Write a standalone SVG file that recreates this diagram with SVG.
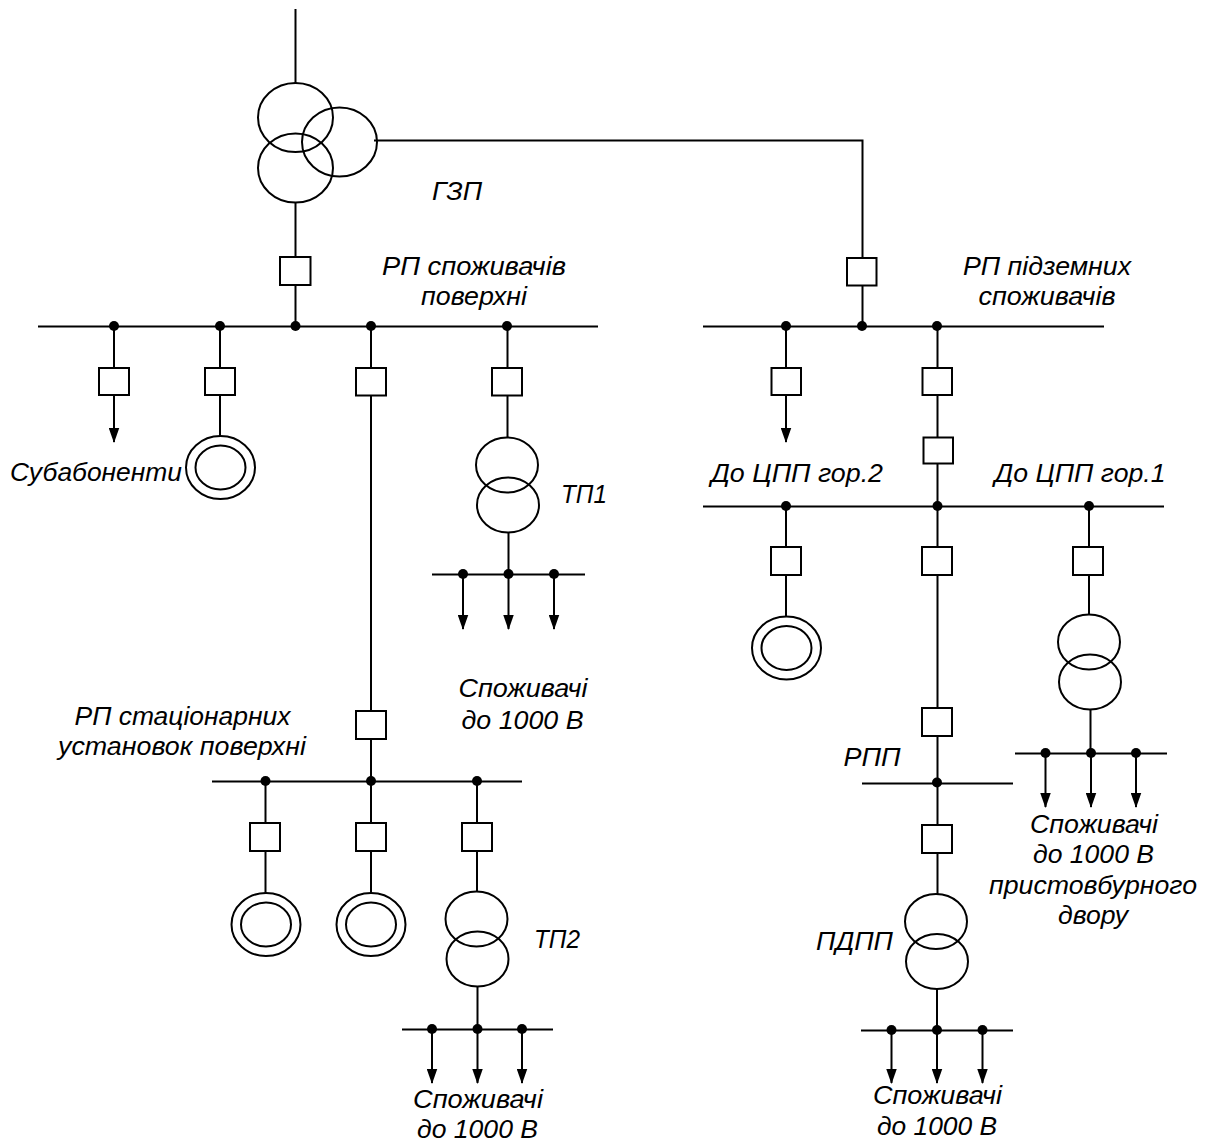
<svg xmlns="http://www.w3.org/2000/svg" xmlns:xlink="http://www.w3.org/1999/xlink" width="1205" height="1142" viewBox="0 0 1205 1142">
<style>
.l{fill:none;stroke:#000;stroke-width:2}
.s{fill:none;stroke:#000;stroke-width:2}
.b{fill:#fff;stroke:#000;stroke-width:2}
.d{fill:#000}
text{font-family:"Liberation Sans",Arial,sans-serif;font-style:italic;font-size:25.5px;fill:#000;text-anchor:middle}
</style>
<defs>
<marker id="arrow" markerUnits="userSpaceOnUse" markerWidth="11" markerHeight="15" refX="5.25" refY="14" orient="0" viewBox="0 0 10.500 15"><path d="M0 0L10.500 0L5.250 15Z" fill="#000"/></marker>
<g id="motor"><ellipse class="s" cx="0" cy="0" rx="34.5" ry="31.5"/><ellipse class="s" cx="0" cy="0" rx="25" ry="22"/></g>
<g id="trafo"><ellipse class="s" cx="0" cy="0" rx="31" ry="27.5"/><ellipse class="s" cx="1" cy="40" rx="31" ry="27.5"/></g>
</defs>
<rect width="1205" height="1142" fill="#fff"/>
<g id="connectors">
<path class="l" d="M295.500 9V84"/>
<path class="l" d="M374 140.500H862.500V326"/>
<path class="l" d="M295.500 202V326"/>
<path class="l" d="M38 326.500H598"/>
<path class="l" d="M703 326.500H1104"/>
<path class="l" d="M220 326V437"/>
<path class="l" d="M371 326V781"/>
<path class="l" d="M507.500 326V437"/>
<path class="l" d="M508.500 533V574"/>
<path class="l" d="M432 574.500H585"/>
<path class="l" d="M212 781.500H522"/>
<path class="l" d="M265.500 781V893"/>
<path class="l" d="M371 781V893"/>
<path class="l" d="M477 781V892"/>
<path class="l" d="M477.500 987V1029"/>
<path class="l" d="M402 1029.500H553"/>
<path class="l" d="M937.500 326V782"/>
<path class="l" d="M703 506.500H1164"/>
<path class="l" d="M786 506V617"/>
<path class="l" d="M1089 506V614"/>
<path class="l" d="M1090.500 710V753"/>
<path class="l" d="M1015 753.500H1167"/>
<path class="l" d="M862 783.500H1013"/>
<path class="l" d="M937.500 783V894"/>
<path class="l" d="M937 989V1030"/>
<path class="l" d="M861 1030.500H1013"/>
<g marker-end="url(#arrow)">
<path class="l" d="M114 326V442"/>
<path class="l" d="M786 326V442"/>
<path class="l" d="M463 574V629"/>
<path class="l" d="M508.500 574V629"/>
<path class="l" d="M554 574V629"/>
<path class="l" d="M432 1029V1083"/>
<path class="l" d="M477.500 1029V1083"/>
<path class="l" d="M522 1029V1083"/>
<path class="l" d="M891.500 1030V1083"/>
<path class="l" d="M937 1030V1083"/>
<path class="l" d="M982.500 1030V1083"/>
<path class="l" d="M1045.500 753V807"/>
<path class="l" d="M1091 753V807"/>
<path class="l" d="M1136 753V807"/>
</g>
<g class="d">
<circle cx="114" cy="326" r="5"/><circle cx="220" cy="326" r="5"/><circle cx="295.500" cy="326" r="5"/><circle cx="371" cy="326" r="5"/><circle cx="507" cy="326" r="5"/>
<circle cx="786" cy="326" r="5"/><circle cx="862" cy="326" r="5"/><circle cx="937" cy="326" r="5"/>
<circle cx="463" cy="574" r="5"/><circle cx="508.500" cy="574" r="5"/><circle cx="554" cy="574" r="5"/>
<circle cx="265.500" cy="781" r="5"/><circle cx="371" cy="781" r="5"/><circle cx="477" cy="781" r="5"/>
<circle cx="432" cy="1029" r="5"/><circle cx="477.500" cy="1029" r="5"/><circle cx="522" cy="1029" r="5"/>
<circle cx="786" cy="506" r="5"/><circle cx="937.500" cy="506" r="5"/><circle cx="1089" cy="506" r="5"/>
<circle cx="1045.500" cy="753" r="5"/><circle cx="1091" cy="753" r="5"/><circle cx="1136" cy="753" r="5"/>
<circle cx="937" cy="782.500" r="5"/>
<circle cx="891.500" cy="1030" r="5"/><circle cx="937" cy="1030" r="5"/><circle cx="982.500" cy="1030" r="5"/>
</g>
</g>
<g id="gzp">
<ellipse class="s" cx="295.500" cy="117.500" rx="37.500" ry="34.500"/>
<ellipse class="s" cx="339.500" cy="142" rx="37.500" ry="34.500"/>
<ellipse class="s" cx="295.500" cy="168" rx="37.500" ry="34.500"/>
<text x="457" y="200" textLength="50" lengthAdjust="spacingAndGlyphs">ГЗП</text>
</g>
<g id="switches">
<rect class="b" x="280" y="257" width="30.500" height="28"/>
<rect class="b" x="847" y="258" width="29.500" height="27.500"/>
<rect class="b" x="99" y="368" width="30" height="27"/>
<rect class="b" x="205" y="368" width="30" height="27"/>
<rect class="b" x="356" y="368" width="30" height="27.500"/>
<rect class="b" x="492" y="368" width="30" height="27.500"/>
<rect class="b" x="771.500" y="368" width="29.500" height="27"/>
<rect class="b" x="922.500" y="368" width="29.500" height="27"/>
<rect class="b" x="923.500" y="437.500" width="29.500" height="26"/>
<rect class="b" x="771" y="547" width="30" height="28"/>
<rect class="b" x="922" y="547" width="30" height="28"/>
<rect class="b" x="1073" y="547" width="30" height="28"/>
<rect class="b" x="356" y="711" width="30" height="28"/>
<rect class="b" x="922" y="708" width="30" height="28"/>
<rect class="b" x="250" y="823" width="30" height="28"/>
<rect class="b" x="356" y="823" width="30" height="28"/>
<rect class="b" x="462" y="823" width="30" height="28"/>
<rect class="b" x="922" y="825" width="30" height="28"/>
</g>
<g id="motor1"><use xlink:href="#motor" href="#motor" x="220.500" y="467.500"/></g>
<g id="motor2"><use xlink:href="#motor" href="#motor" x="266" y="924.500"/></g>
<g id="motor3"><use xlink:href="#motor" href="#motor" x="371" y="924.500"/></g>
<g id="motor4"><use xlink:href="#motor" href="#motor" x="786.500" y="648"/></g>
<g id="tp1"><use xlink:href="#trafo" href="#trafo" x="507" y="465"/><text x="584" y="503" textLength="46" lengthAdjust="spacingAndGlyphs">ТП1</text></g>
<g id="tp2"><use xlink:href="#trafo" href="#trafo" x="476.500" y="919"/><text x="557" y="948" textLength="46" lengthAdjust="spacingAndGlyphs">ТП2</text></g>
<g id="tp3"><use xlink:href="#trafo" href="#trafo" x="1089" y="642"/></g>
<g id="pdpp"><use xlink:href="#trafo" href="#trafo" x="936" y="921.500"/><text x="854.500" y="950" textLength="77" lengthAdjust="spacingAndGlyphs">ПДПП</text></g>
<g id="labels">
<text x="474" y="275" textLength="184" lengthAdjust="spacingAndGlyphs">РП споживачів</text>
<text x="474" y="305" textLength="106" lengthAdjust="spacingAndGlyphs">поверхні</text>
<text x="1047" y="275" textLength="168" lengthAdjust="spacingAndGlyphs">РП підземних</text>
<text x="1047" y="305" textLength="137" lengthAdjust="spacingAndGlyphs">споживачів</text>
<text x="96" y="481" textLength="172" lengthAdjust="spacingAndGlyphs">Субабоненти</text>
<text x="797" y="482" textLength="172" lengthAdjust="spacingAndGlyphs">До ЦПП гор.2</text>
<text x="1080" y="482" textLength="171" lengthAdjust="spacingAndGlyphs">До ЦПП гор.1</text>
<text x="523" y="697" textLength="129" lengthAdjust="spacingAndGlyphs">Споживачі</text>
<text x="522.500" y="729" textLength="122" lengthAdjust="spacingAndGlyphs">до 1000 В</text>
<text x="182.500" y="725" textLength="216" lengthAdjust="spacingAndGlyphs">РП стаціонарних</text>
<text x="182" y="755" textLength="248" lengthAdjust="spacingAndGlyphs">установок поверхні</text>
<text x="872" y="766" textLength="57" lengthAdjust="spacingAndGlyphs">РПП</text>
<text x="1094" y="833" textLength="128" lengthAdjust="spacingAndGlyphs">Споживачі</text>
<text x="1093.500" y="863" textLength="121" lengthAdjust="spacingAndGlyphs">до 1000 В</text>
<text x="1093" y="894" textLength="208" lengthAdjust="spacingAndGlyphs">пристовбурного</text>
<text x="1093" y="924" textLength="70" lengthAdjust="spacingAndGlyphs">двору</text>
<text x="478" y="1108" textLength="130" lengthAdjust="spacingAndGlyphs">Споживачі</text>
<text x="477.500" y="1138" textLength="121" lengthAdjust="spacingAndGlyphs">до 1000 В</text>
<text x="937.500" y="1104" textLength="129" lengthAdjust="spacingAndGlyphs">Споживачі</text>
<text x="937" y="1135" textLength="120" lengthAdjust="spacingAndGlyphs">до 1000 В</text>
</g>
</svg>
